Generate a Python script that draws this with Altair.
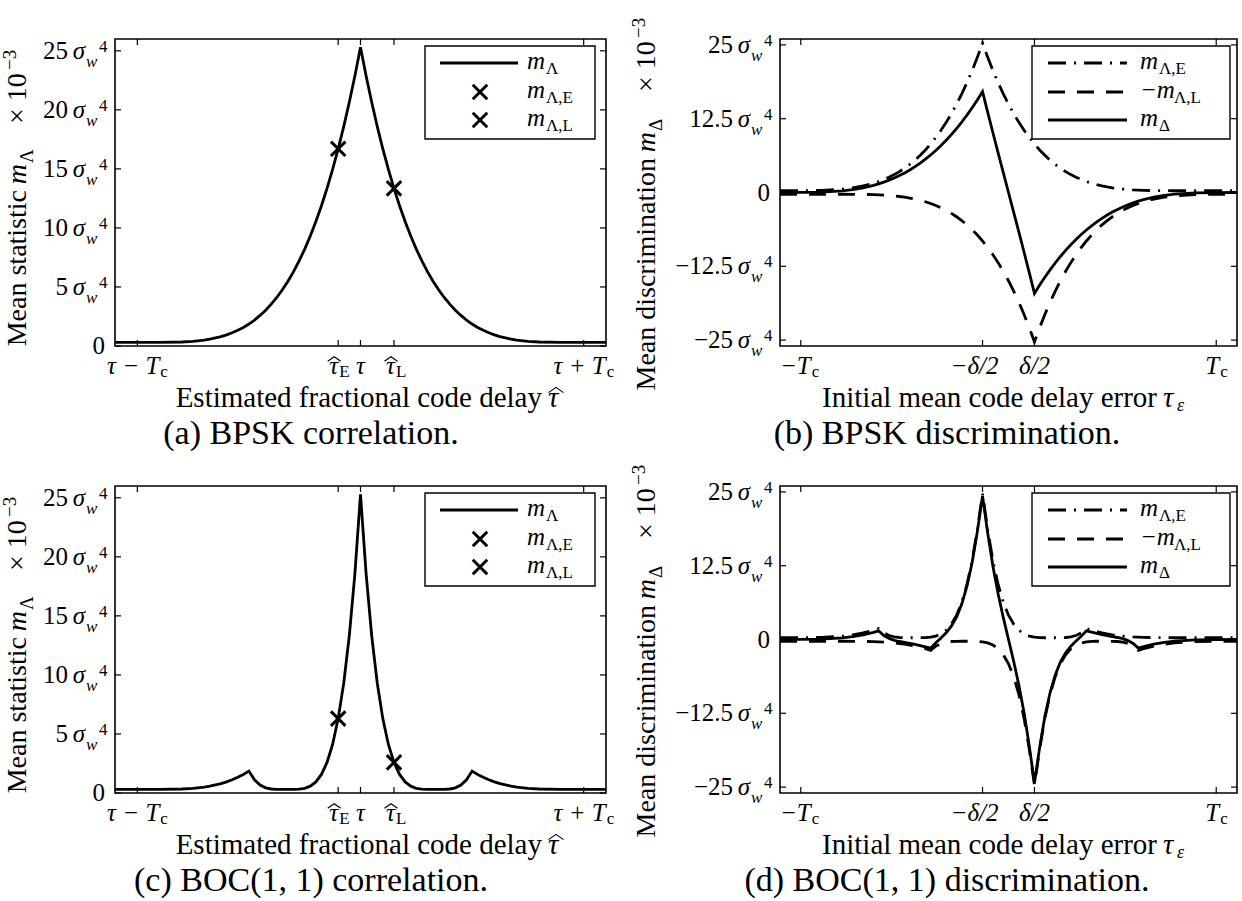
import altair as alt
import pandas as pd

FONT = "Liberation Serif, Tinos, Times New Roman, DejaVu Serif, serif"

# ---------------- data ----------------
TAU = [-1.1, -1.0, -0.9, -0.8, -0.75, -0.7, -0.675, -0.65, -0.625, -0.6, -0.575, -0.55, -0.525, -0.5,
       -0.475, -0.45, -0.425, -0.4, -0.375, -0.35, -0.325, -0.3, -0.275, -0.25, -0.225, -0.2, -0.175,
       -0.15, -0.125, -0.1, -0.075, -0.05, -0.025, 0.0, 0.025, 0.05, 0.075, 0.1, 0.125, 0.15, 0.175,
       0.2, 0.225, 0.25, 0.275, 0.3, 0.325, 0.35, 0.375, 0.4, 0.425, 0.45, 0.475, 0.5, 0.525, 0.55,
       0.575, 0.6, 0.625, 0.65, 0.675, 0.7, 0.75, 0.8, 0.9, 1.0, 1.1]

# (a) BPSK correlation m_Lambda
M_BPSK = [0.30, 0.30, 0.30, 0.34, 0.40, 0.50, 0.58, 0.68, 0.79, 0.94, 1.12, 1.33, 1.57, 1.86, 2.20,
          2.59, 3.03, 3.54, 4.11, 4.76, 5.49, 6.30, 7.21, 8.21, 9.32, 10.54, 11.88, 13.35, 14.95, 16.70,
          18.60, 20.66, 22.89, 25.30, 22.89, 20.66, 18.60, 16.70, 14.95, 13.35, 11.88, 10.54, 9.32, 8.21,
          7.21, 6.30, 5.49, 4.76, 4.11, 3.54, 3.03, 2.59, 2.20, 1.86, 1.57, 1.33, 1.12, 0.94, 0.79, 0.68,
          0.58, 0.50, 0.40, 0.34, 0.30, 0.30, 0.30]
# (c) BOC(1,1) correlation m_Lambda
M_BOC = [0.30, 0.30, 0.30, 0.34, 0.40, 0.50, 0.58, 0.68, 0.79, 0.94, 1.12, 1.33, 1.57, 1.86, 1.12, 0.68,
         0.44, 0.34, 0.31, 0.30, 0.30, 0.30, 0.32, 0.40, 0.58, 0.94, 1.57, 2.59, 4.11, 6.30, 9.32, 13.35,
         18.60, 25.30, 18.60, 13.35, 9.32, 6.30, 4.11, 2.59, 1.57, 0.94, 0.58, 0.40, 0.32, 0.30, 0.30,
         0.30, 0.31, 0.34, 0.44, 0.68, 1.12, 1.86, 1.57, 1.33, 1.12, 0.94, 0.79, 0.68, 0.58, 0.50, 0.40,
         0.34, 0.30, 0.30, 0.30]
MARK_X = [-0.1, 0.15]
BPSK_MARK_Y = [16.70, 13.35]
BOC_MARK_Y = [6.30, 2.59]

# (b) BPSK discrimination
BPSK_E = [0.30, 0.31, 0.36, 0.58, 0.79, 1.12, 1.33, 1.57, 1.86, 2.20, 2.59, 3.03, 3.54, 4.11, 4.76, 5.49,
          6.30, 7.21, 8.21, 9.32, 10.54, 11.88, 13.35, 14.95, 16.70, 18.60, 20.66, 22.89, 25.30, 22.89,
          20.66, 18.60, 16.70, 14.95, 13.35, 11.88, 10.54, 9.32, 8.21, 7.21, 6.30, 5.49, 4.76, 4.11, 3.54,
          3.03, 2.59, 2.20, 1.86, 1.57, 1.33, 1.12, 0.94, 0.79, 0.68, 0.58, 0.50, 0.44, 0.40, 0.36, 0.34,
          0.32, 0.31, 0.30, 0.30, 0.30, 0.30]
BPSK_NL = [-0.30, -0.30, -0.30, -0.30, -0.31, -0.32, -0.34, -0.36, -0.40, -0.44, -0.50, -0.58, -0.68,
           -0.79, -0.94, -1.12, -1.33, -1.57, -1.86, -2.20, -2.59, -3.03, -3.54, -4.11, -4.76, -5.49,
           -6.30, -7.21, -8.21, -9.32, -10.54, -11.88, -13.35, -14.95, -16.70, -18.60, -20.66, -22.89,
           -25.30, -22.89, -20.66, -18.60, -16.70, -14.95, -13.35, -11.88, -10.54, -9.32, -8.21, -7.21,
           -6.30, -5.49, -4.76, -4.11, -3.54, -3.03, -2.59, -2.20, -1.86, -1.57, -1.33, -1.12, -0.79,
           -0.58, -0.36, -0.31, -0.30]
BPSK_D = [0.00, 0.01, 0.06, 0.28, 0.48, 0.80, 0.99, 1.21, 1.46, 1.76, 2.09, 2.45, 2.86, 3.32, 3.82, 4.37,
          4.97, 5.64, 6.35, 7.12, 7.95, 8.85, 9.81, 10.84, 11.94, 13.11, 14.36, 15.68, 17.09, 13.57, 10.12,
          6.72, 3.35, 0.00, -3.35, -6.72, -10.12, -13.57, -17.09, -15.68, -14.36, -13.11, -11.94, -10.84,
          -9.81, -8.85, -7.95, -7.12, -6.35, -5.64, -4.97, -4.37, -3.82, -3.32, -2.86, -2.45, -2.09,
          -1.76, -1.46, -1.21, -0.99, -0.80, -0.48, -0.28, -0.06, -0.01, 0.00]

# (d) BOC(1,1) discrimination
BOC_E = [0.30, 0.31, 0.36, 0.58, 0.79, 1.12, 1.33, 1.57, 1.86, 1.12, 0.68, 0.44, 0.34, 0.31, 0.30, 0.30,
         0.30, 0.32, 0.40, 0.58, 0.94, 1.57, 2.59, 4.11, 6.30, 9.32, 13.35, 18.60, 24.70, 18.60, 13.35,
         9.32, 6.30, 4.11, 2.59, 1.57, 0.94, 0.58, 0.40, 0.32, 0.30, 0.30, 0.30, 0.31, 0.34, 0.44, 0.68,
         1.12, 1.86, 1.57, 1.33, 1.12, 0.94, 0.79, 0.68, 0.58, 0.50, 0.44, 0.40, 0.36, 0.34, 0.32, 0.31,
         0.30, 0.30, 0.30, 0.30]
BOC_NL = [-0.30, -0.30, -0.30, -0.30, -0.31, -0.32, -0.34, -0.36, -0.40, -0.44, -0.50, -0.58, -0.68,
          -0.79, -0.94, -1.12, -1.33, -1.57, -1.86, -1.12, -0.68, -0.44, -0.34, -0.31, -0.30, -0.30,
          -0.30, -0.32, -0.40, -0.58, -0.94, -1.57, -2.59, -4.11, -6.30, -9.32, -13.35, -18.60, -24.70,
          -18.60, -13.35, -9.32, -6.30, -4.11, -2.59, -1.57, -0.94, -0.58, -0.40, -0.32, -0.30, -0.30,
          -0.30, -0.31, -0.34, -0.44, -0.68, -1.12, -1.86, -1.57, -1.33, -1.12, -0.79, -0.58, -0.36,
          -0.31, -0.30]
BOC_D = [0.00, 0.01, 0.06, 0.28, 0.48, 0.80, 0.99, 1.21, 1.46, 0.68, 0.18, -0.14, -0.34, -0.48, -0.64,
         -0.82, -1.03, -1.25, -1.46, -0.54, 0.26, 1.13, 2.25, 3.80, 6.00, 9.02, 13.05, 18.28, 24.30,
         18.02, 12.41, 7.75, 3.71, 0.00, -3.71, -7.75, -12.41, -18.02, -24.30, -18.28, -13.05, -9.02,
         -6.00, -3.80, -2.25, -1.13, -0.26, 0.54, 1.46, 1.25, 1.03, 0.82, 0.64, 0.48, 0.34, 0.14, -0.18,
         -0.68, -1.46, -1.21, -0.99, -0.80, -0.48, -0.28, -0.06, -0.01, 0.00]

# ticks and labels
XT_CORR = [-1.0, -0.1, 0.0, 0.15, 1.0]
YT_CORR = [0, 5, 10, 15, 20, 25]
YL_CORR = ["5", "10", "15", "20", "25"]
XT_DISC = [-1.0, -0.125, 0.125, 1.0]
YT_DISC = [-25, -12.5, 0, 12.5, 25]
YL_DISC_V = [-25, -12.5, 12.5, 25]
YL_DISC = ["\u221225", "\u221212.5", "12.5", "25"]

XDOM = [-1.1, 1.1]
H = 307
WL, WR = 491, 457
XSHAPE = "M-1,-1L1,1M-1,1L1,-1"
HATSHAPE = "M-1,0.35L0,-0.35L1,0.35"
DASH = [17, 12]
DASHDOT = [18, 8, 2, 8]
LW = 2.8
TICK_BASE = 28     # x tick labels baseline below plot
TITLE_BASE = 61    # x title baseline below plot
TITLE_SIZE = 29
CAP_BASE = 98      # caption baseline below plot
CAP_SIZE = 34


class Panel:
    def __init__(self, w, h, ydom):
        self.w, self.h = w, h
        self.ydom = ydom
        self.layers = []

    def X(self, f):
        return alt.X(f + ":Q", scale=alt.Scale(domain=XDOM, nice=False, zero=False), axis=None)

    def Y(self, f):
        return alt.Y(f + ":Q", scale=alt.Scale(domain=self.ydom, nice=False, zero=False), axis=None)

    def texts(self, strings, xd=None, yd=None, x=None, y=None, size=25, italic=False,
              align="left", baseline="alphabetic", angle=None, dx=0, dy=0):
        recs = []
        for i, s in enumerate(strings):
            r = {"s": s}
            if xd is not None:
                r["xd"] = xd[i]
            if yd is not None:
                r["yd"] = yd[i]
            recs.append(r)
        enc = {"text": alt.Text("s:N")}
        enc["x"] = self.X("xd") if xd is not None else alt.value(x)
        enc["y"] = self.Y("yd") if yd is not None else alt.value(y)
        kw = dict(font=FONT, fontSize=size, fontStyle="italic" if italic else "normal",
                  align=align, baseline=baseline, dx=dx, dy=dy, color="black")
        if angle is not None:
            kw["angle"] = angle
        self.layers.append(alt.Chart(alt.Data(values=recs)).mark_text(**kw).encode(**enc))

    def line(self, xs, ys, dash=None):
        df = pd.DataFrame({"tau": xs, "val": ys})
        kw = dict(color="black", strokeWidth=LW, clip=True)
        if dash:
            kw["strokeDash"] = dash
        self.layers.append(alt.Chart(df).mark_line(**kw).encode(x=self.X("tau"), y=self.Y("val")))

    def points(self, xs, ys):
        df = pd.DataFrame({"px": xs, "py": ys})
        self.layers.append(alt.Chart(df).mark_point(shape=XSHAPE, size=210, strokeWidth=3, filled=False,
                                                    color="black", opacity=1)
                           .encode(x=self.X("px"), y=self.Y("py")))

    def hat(self, t, off_px, y, width=13):
        # circumflex drawn as a small caret over a tau: tick value shifted by a few pixels
        d = t + off_px * (XDOM[1] - XDOM[0]) / self.w
        self.layers.append(alt.Chart(alt.Data(values=[{"hx": d}]))
                           .mark_point(shape=HATSHAPE, size=width * width, strokeWidth=1.2,
                                       filled=False, color="black", opacity=1)
                           .encode(x=self.X("hx"), y=alt.value(y)))

    def ticks(self, xt, yt, L=6):
        dfx = pd.DataFrame({"t": xt})
        for a, b in [(self.h, self.h - L), (0, L)]:
            self.layers.append(alt.Chart(dfx).mark_rule(color="black", strokeWidth=1.2)
                               .encode(x=self.X("t"), y=alt.value(a), y2=alt.value(b)))
        dfy = pd.DataFrame({"t": yt})
        for a, b in [(0, L), (self.w, self.w - L)]:
            self.layers.append(alt.Chart(dfy).mark_rule(color="black", strokeWidth=1.2)
                               .encode(y=self.Y("t"), x=alt.value(a), x2=alt.value(b)))

    def box(self, x1, x2, y1, y2):
        self.layers.append(alt.Chart(alt.Data(values=[{"k": 0}]))
                           .mark_rect(fill="white", stroke="black", strokeWidth=1.4)
                           .encode(x=alt.value(x1), x2=alt.value(x2), y=alt.value(y1), y2=alt.value(y2)))

    def leg_line(self, x1, x2, y, dash=None):
        kw = dict(color="black", strokeWidth=LW)
        if dash:
            kw["strokeDash"] = dash
        self.layers.append(alt.Chart(alt.Data(values=[{"k": 0}])).mark_rule(**kw)
                           .encode(x=alt.value(x1), x2=alt.value(x2), y=alt.value(y)))

    def leg_marker(self, x, y):
        self.layers.append(alt.Chart(alt.Data(values=[{"k": 0}]))
                           .mark_point(shape=XSHAPE, size=210, strokeWidth=3, filled=False,
                                       color="black", opacity=1)
                           .encode(x=alt.value(x), y=alt.value(y)))

    def ylabels(self, vals, labs):
        A = -30
        self.texts(labs, yd=vals, x=A - 17, align="right", baseline="middle")
        self.texts(["\u03c3"] * len(vals), yd=vals, x=A, italic=True, align="right", baseline="middle")
        self.texts(["w"] * len(vals), yd=vals, x=A + 1, size=17, italic=True, baseline="middle", dy=11)
        self.texts(["4"] * len(vals), yd=vals, x=A + 14, size=17, baseline="middle", dy=-4)
        self.texts(["0"], yd=[0], x=-10, align="right", baseline="middle")

    def xlabel(self, t, main, sub=None, shift=0, hat=False):
        yb = self.h + TICK_BASE
        if sub is None:
            self.texts([main], xd=[t], y=yb, italic=True, align="center", dx=shift)
        else:
            self.texts([main], xd=[t], y=yb, italic=True, align="right", dx=shift)
            self.texts([sub], xd=[t], y=yb, size=17, align="left", dx=shift + 1, dy=3)
        if hat:
            self.hat(t, shift - 4, yb - 15)

    def ytitle(self, xb, ya, main, sub):
        self.texts([main], x=xb, y=ya, size=28, align="right", angle=270, dx=-26)
        self.texts(["m"], x=xb, y=ya, size=28, italic=True, align="right", angle=270)
        self.texts([sub], x=xb, y=ya, size=19, align="left", angle=270, dx=1, dy=7)
        self.texts(["\u00d7 10"], x=xb, y=ya, size=28, align="left", angle=270, dx=40)
        self.texts(["\u22123"], x=xb, y=ya, size=19, align="left", angle=270, dx=94, dy=-10)

    def caption(self, s, xc):
        self.texts([s], x=xc, y=self.h + CAP_BASE, size=CAP_SIZE, align="center")

    def chart(self):
        return alt.layer(*self.layers).properties(width=self.w, height=self.h)


def corr_panel(curve, mark_y, caption):
    p = Panel(WL, H, [0, 26])
    p.line(TAU, curve)
    p.points(MARK_X, mark_y)
    p.ticks(XT_CORR, YT_CORR)
    p.ylabels(YT_CORR[1:], YL_CORR)
    p.xlabel(-1.0, "\u03c4 \u2212 T", "c", shift=22)
    p.xlabel(-0.1, "\u03c4", "E", shift=0, hat=True)
    p.xlabel(0.0, "\u03c4")
    p.xlabel(0.15, "\u03c4", "L", shift=1, hat=True)
    p.xlabel(1.0, "\u03c4 + T", "c", shift=22)
    p.texts(["Estimated fractional code delay"], x=427, y=H + TITLE_BASE, size=TITLE_SIZE, align="right")
    p.texts(["\u03c4"], x=433, y=H + TITLE_BASE, size=TITLE_SIZE, italic=True)
    p.hat(XDOM[0], 441, H + TITLE_BASE - 17, width=15)
    p.ytitle(-89, 125, "Mean statistic", "\u039b")
    # legend
    p.box(310, 480, 7, 100)
    p.leg_line(325, 403, 24)
    p.leg_marker(365, 53)
    p.leg_marker(365, 81)
    for yy, sub in [(24, "\u039b"), (53, "\u039b,E"), (81, "\u039b,L")]:
        p.texts(["m"], x=412, y=yy + 6, italic=True)
        p.texts([sub], x=431, y=yy + 11, size=17)
    p.caption(caption, 196)
    return p.chart()


def disc_panel(e, nl, d, caption):
    p = Panel(WR, H, [-26, 26])
    p.line(TAU, e, DASHDOT)
    p.line(TAU, nl, DASH)
    p.line(TAU, d)
    p.ticks(XT_DISC, YT_DISC)
    p.ylabels(YL_DISC_V, YL_DISC)
    p.xlabel(-1.0, "\u2212T", "c", shift=10)
    p.xlabel(-0.125, "\u2212\u03b4/2", shift=-8)
    p.xlabel(0.125, "\u03b4/2")
    p.xlabel(1.0, "T", "c", shift=3)
    p.texts(["Initial mean code delay error"], x=377, y=H + TITLE_BASE, size=TITLE_SIZE, align="right")
    p.texts(["\u03c4"], x=383, y=H + TITLE_BASE, size=TITLE_SIZE, italic=True)
    p.texts(["\u03b5"], x=397, y=H + TITLE_BASE + 4, size=18, italic=True)
    p.ytitle(-125, 93, "Mean discrimination", "\u0394")
    # legend
    p.box(252, 450, 7, 100)
    p.leg_line(268, 347, 24, DASHDOT)
    p.leg_line(268, 347, 53, DASH)
    p.leg_line(268, 347, 81)
    p.texts(["m"], x=360, y=30, italic=True)
    p.texts(["\u039b,E"], x=379, y=35, size=17)
    p.texts(["\u2212m"], x=360, y=59, italic=True)
    p.texts(["\u039b,L"], x=394, y=64, size=17)
    p.texts(["m"], x=360, y=87, italic=True)
    p.texts(["\u0394"], x=379, y=92, size=17)
    p.caption(caption, 167)
    return p.chart()


pa = corr_panel(M_BPSK, BPSK_MARK_Y, "(a) BPSK correlation.")
pb = disc_panel(BPSK_E, BPSK_NL, BPSK_D, "(b) BPSK discrimination.")
pc = corr_panel(M_BOC, BOC_MARK_Y, "(c) BOC(1, 1) correlation.")
pd_ = disc_panel(BOC_E, BOC_NL, BOC_D, "(d) BOC(1, 1) discrimination.")

chart = (
    alt.concat(pa, pb, pc, pd_, columns=2, spacing={"row": 140, "column": 174},
               bounds="flush", align="each")
    .properties(padding={"left": 0, "top": 16, "right": 0, "bottom": 0}, background="white")
    .configure_view(stroke="black", strokeWidth=1.6)
)

chart.save("out.html", embed_options={"renderer": "svg", "actions": False})
